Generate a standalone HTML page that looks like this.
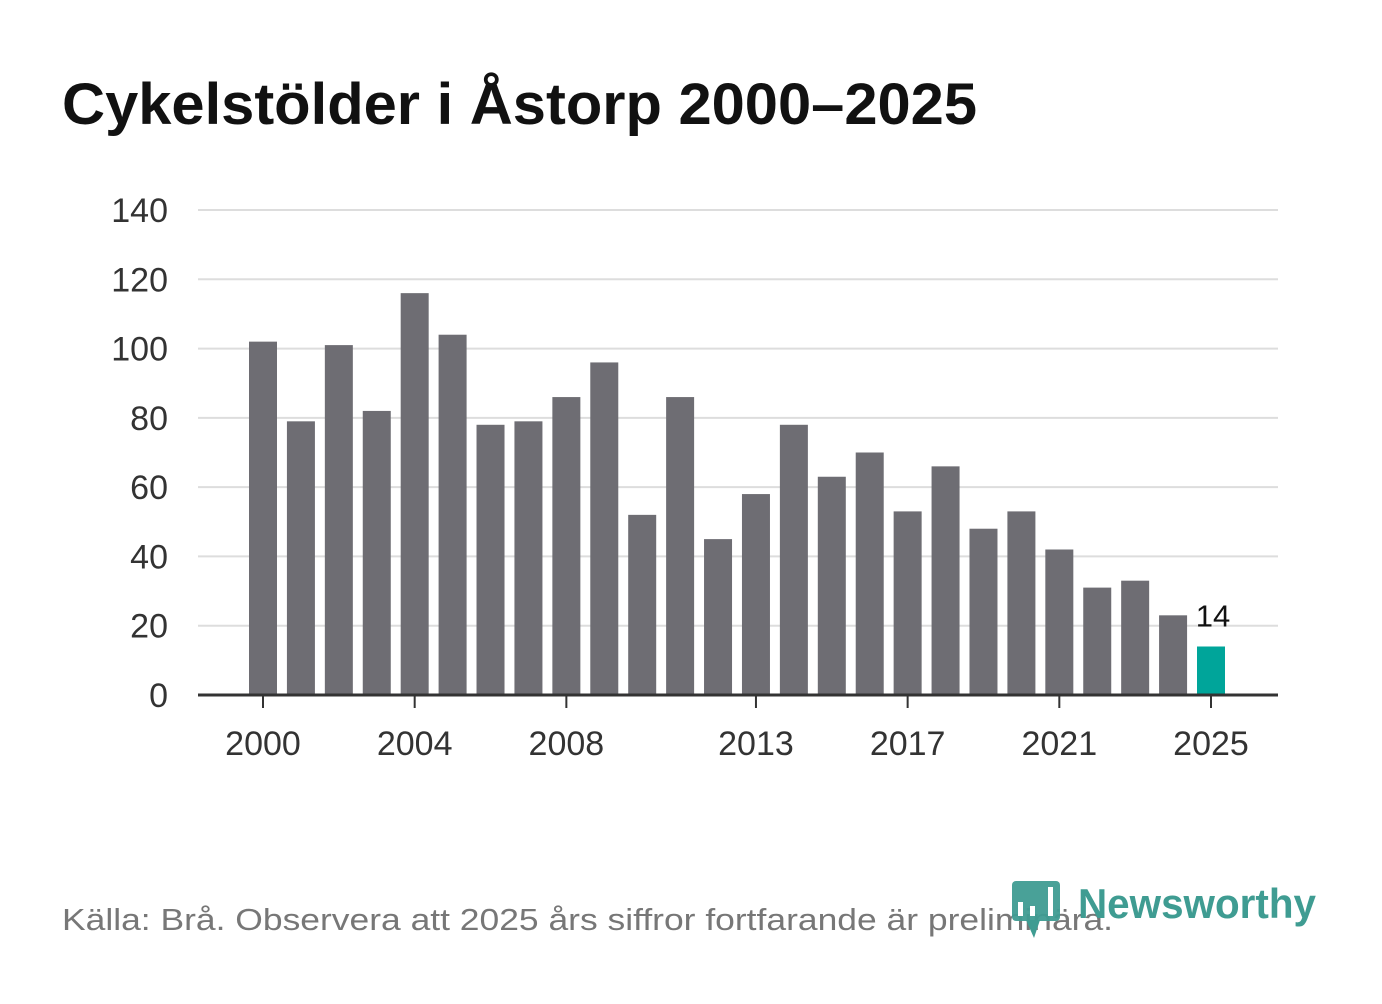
<!DOCTYPE html>
<html><head><meta charset="utf-8"><style>
body{margin:0;background:#fff;width:1382px;height:999px;overflow:hidden;font-family:"Liberation Sans",sans-serif;}
</style></head><body>
<svg width="1382" height="999">
<text x="62" y="124" font-size="58" font-weight="bold" fill="#111" textLength="915" lengthAdjust="spacingAndGlyphs">Cykelstölder i Åstorp 2000–2025</text>
<g id="grid"></g><g id="bars"></g><g id="xax"></g>
<text x="62" y="930" font-size="31" fill="#777" textLength="1051" lengthAdjust="spacingAndGlyphs">Källa: Brå. Observera att 2025 års siffror fortfarande är preliminära.</text>
<g>
<rect x="1012" y="881" width="48" height="40" rx="4" fill="#3f9c92" opacity="0.95"/>
<polygon points="1026,920 1040,920 1034,938" fill="#3f9c92"/>
<rect x="1018" y="902" width="5" height="14" fill="#fff"/><rect x="1030" y="906" width="5" height="10" fill="#fff"/><rect x="1048" y="887" width="5" height="29" fill="#fff"/>
<text x="1078" y="918" font-size="42" font-weight="bold" fill="#3f9c92" textLength="238" lengthAdjust="spacingAndGlyphs">Newsworthy</text>
</g>
</svg>
<script>
const years=[2000,2001,2002,2003,2004,2005,2006,2007,2008,2009,2010,2011,2012,2013,2014,2015,2016,2017,2018,2019,2020,2021,2022,2023,2024,2025];
const values=[102,79,101,82,116,104,78,79,86,96,52,86,45,58,78,63,70,53,66,48,53,42,31,33,23,14];
const yTicks=[0,20,40,60,80,100,120,140];
const xTicks=[2000,2004,2008,2013,2017,2021,2025];
const NS="http://www.w3.org/2000/svg";
const y=v=>695-v*(485/140);
const x=yr=>263+(yr-2000)*37.92;
function mk(t,a,p){const e=document.createElementNS(NS,t);for(const k in a)e.setAttribute(k,a[k]);p.appendChild(e);return e;}
const g=document.getElementById('grid'),b=document.getElementById('bars'),xa=document.getElementById('xax');
yTicks.forEach(v=>{
 if(v>0){const l=mk('line',{x1:198,x2:1278,y1:y(v),y2:y(v),stroke:'#ddd','stroke-width':2},g);
 
 }
 const t=mk('text',{x:168,y:y(v)+12,'font-size':34,fill:'#333','text-anchor':'end'},g);t.textContent=v;
 
 
});
years.forEach((yr,i)=>{
 const r=mk('rect',{x:x(yr)-14,y:y(values[i]),width:28,height:695-y(values[i]),fill:yr===2025?'#00a59a':'#6e6d73'},b);
 
 
});
const lab=mk('text',{x:x(2025)+2,y:y(values[25])-20,'font-size':31,fill:'#111','text-anchor':'middle'},b);lab.textContent=values[25];


const ax=mk('line',{x1:198,x2:1278,y1:695,y2:695,stroke:'#333','stroke-width':3},xa);


xTicks.forEach(yr=>{
 mk('line',{x1:x(yr),x2:x(yr),y1:695,y2:708,stroke:'#333','stroke-width':2},xa);
 const t=mk('text',{x:x(yr),y:755,'font-size':34,fill:'#333','text-anchor':'middle'},xa);t.textContent=yr;
 
 
});
</script>
</body></html>
